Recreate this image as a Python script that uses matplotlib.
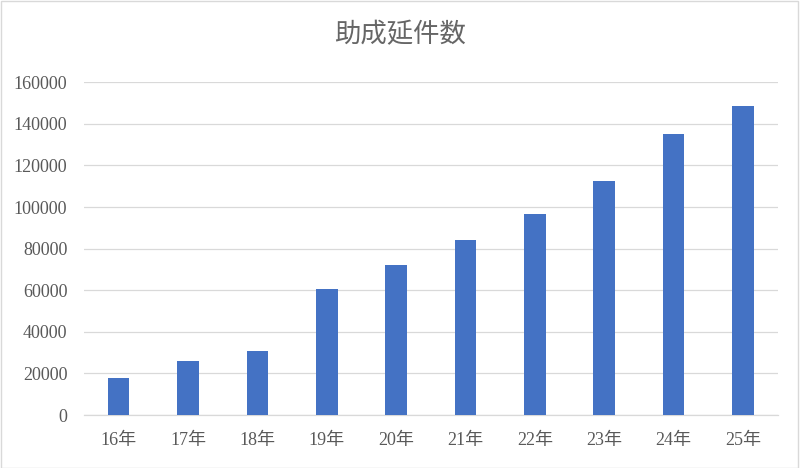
import matplotlib
matplotlib.use("Agg")
import matplotlib.pyplot as plt
from matplotlib.patches import Rectangle

# データ
years = ["16年", "17年", "18年", "19年", "20年", "21年", "22年", "23年", "24年", "25年"]
counts = [17600, 26100, 30900, 60400, 72100, 84100, 96500, 112500, 135100, 148400]
y_ticks = [0, 20000, 40000, 60000, 80000, 100000, 120000, 140000, 160000]

fonts = ["Liberation Serif", "Noto Sans CJK JP", "DejaVu Sans"]
plt.rcParams["font.family"] = fonts

fig = plt.figure(figsize=(8, 4.68), dpi=100)
ax = fig.add_axes([0.105, 0.1132, 0.867, 0.7109])

x = range(len(years))
ax.bar(x, counts, width=0.31, color="#4472C4", zorder=3)

ax.set_xlim(-0.5, len(years) - 0.5)
ax.set_ylim(0, 160000)
ax.set_yticks(y_ticks)
ax.set_yticklabels([str(v) for v in y_ticks])
ax.set_xticks(list(x))
ax.set_xticklabels(years)

ax.grid(axis="y", color="#d9d9d9", linewidth=0.9, zorder=0)
for s in ["top", "right", "left"]:
    ax.spines[s].set_visible(False)
ax.spines["bottom"].set_color("#d9d9d9")
ax.spines["bottom"].set_linewidth(0.9)
ax.tick_params(axis="both", length=0, labelsize=13, labelcolor="#595959")
ax.tick_params(axis="y", pad=12)
ax.tick_params(axis="x", pad=12)

fig.text(0.5, 0.925, "助成延件数", ha="center", va="center", fontsize=19,
         color="#666666", family=["Noto Sans CJK JP", "DejaVu Sans"])

# 外枠
fig.patches.append(Rectangle((0.001, 0.001), 0.997, 0.997, transform=fig.transFigure,
                             fill=False, edgecolor="#d9d9d9", linewidth=1))

fig.savefig("out.png", dpi=100)
